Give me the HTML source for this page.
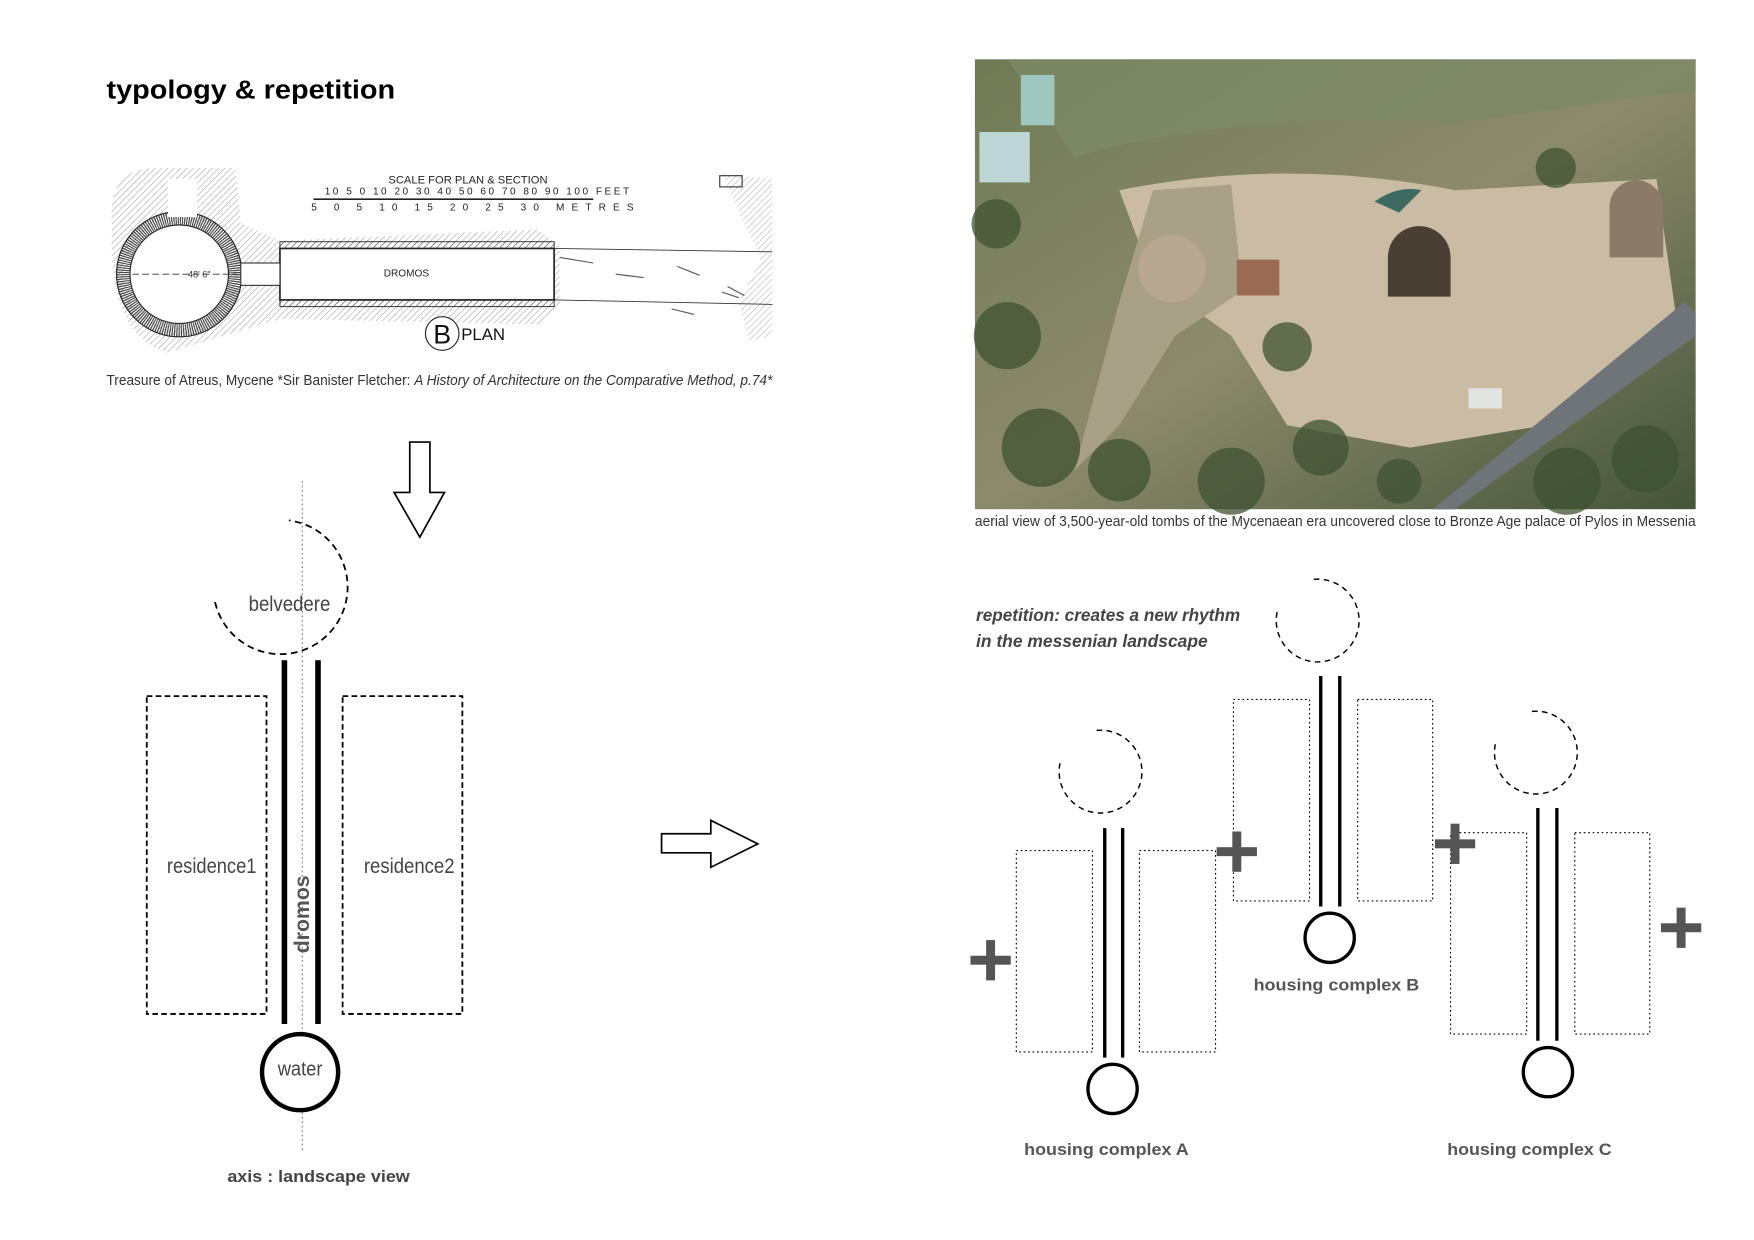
<!DOCTYPE html>
<html><head><meta charset="utf-8"><style>
html,body{margin:0;padding:0;background:#fff;}
svg{display:block;}
.n{font-family:"Liberation Sans",sans-serif;}
.s{font-family:"Liberation Sans",sans-serif;}
</style></head><body>
<svg width="1754" height="1240" viewBox="0 0 1567 1108" xmlns="http://www.w3.org/2000/svg">
<rect width="1567" height="1108" fill="#fff"/>
<defs>
<pattern id="h" width="4" height="4" patternUnits="userSpaceOnUse" patternTransform="rotate(45)"><line x1="0" y1="0" x2="0" y2="4" stroke="#555" stroke-width="1"/></pattern>
<linearGradient id="g1" x1="0" y1="0" x2="1" y2="1"><stop offset="0" stop-color="#6f7a55"/><stop offset="0.5" stop-color="#8d8a6c"/><stop offset="1" stop-color="#45553a"/></linearGradient>
</defs>
<text x="95" y="88" class="s" font-weight="bold" font-size="23" fill="#000" textLength="258" lengthAdjust="spacingAndGlyphs">typology &amp; repetition</text>

<!-- plan drawing -->
<g>
<path d="M100,200 Q95,150 140,150 L210,150 L215,200 L250,215 L480,205 L500,220 L500,275 L480,290 L250,285 L200,300 L150,315 Q95,300 100,200Z" fill="url(#h)" opacity="0.55"/>
<circle cx="160" cy="245" r="50" fill="none" stroke="#444" stroke-width="12" stroke-dasharray="1 1"/>
<circle cx="160" cy="245" r="44" fill="#fff" stroke="#222" stroke-width="1"/>
<circle cx="160" cy="245" r="56" fill="none" stroke="#222" stroke-width="1"/>
<rect x="150" y="160" width="26" height="34" fill="#fff"/>
<rect x="250" y="222" width="245" height="46" fill="#fff" stroke="#222" stroke-width="1.5"/>
<rect x="250" y="216" width="245" height="6" fill="url(#h)" stroke="#222" stroke-width="0.8"/>
<rect x="250" y="268" width="245" height="6" fill="url(#h)" stroke="#222" stroke-width="0.8"/>
<rect x="215" y="235" width="35" height="20" fill="#fff" stroke="#333" stroke-width="1"/>
<line x1="118" y1="245" x2="212" y2="245" stroke="#333" stroke-dasharray="6 3" stroke-width="0.8"/>
<text x="168" y="248" class="n" font-size="8" fill="#333">48' 6"</text>
<text x="363" y="247" class="n" font-size="9" text-anchor="middle" fill="#222">DROMOS</text>
<line x1="495" y1="222" x2="690" y2="225" stroke="#333" stroke-width="0.8"/>
<line x1="495" y1="268" x2="690" y2="272" stroke="#333" stroke-width="0.8"/>
<path d="M500,230 l30,5 m20,10 l25,3 m30,-10 l20,8 m20,15 l15,5 m-60,10 l20,5 m30,-25 l15,8" stroke="#555" stroke-width="1" fill="none"/>
<path d="M645,155 L690,160 L690,300 L670,305 L660,270 L680,230 L665,200Z" fill="url(#h)" opacity="0.45"/>
<rect x="643" y="157" width="20" height="10" fill="none" stroke="#333" stroke-width="1"/>
<text x="418" y="164" class="n" font-size="10" text-anchor="middle" fill="#222">SCALE FOR PLAN &amp; SECTION</text>
<text x="290" y="174" class="n" font-size="9" fill="#222" textLength="272" lengthAdjust="spacing">10 5 0 10 20 30 40 50 60 70 80 90 100 FEET</text>
<line x1="280" y1="178" x2="530" y2="178" stroke="#222" stroke-width="1.5"/>
<text x="278" y="188" class="n" font-size="9" fill="#222" textLength="288" lengthAdjust="spacing">5 0 5 10 15 20 25 30 METRES</text>
<circle cx="395" cy="298" r="15" fill="#fff" stroke="#222" stroke-width="1"/>
<text x="395" y="307" class="n" font-size="24" text-anchor="middle" fill="#111">B</text>
<text x="412" y="304" class="n" font-size="15" fill="#111">PLAN</text>
</g>
<text x="95" y="344" class="n" font-size="13" fill="#333" textLength="595" lengthAdjust="spacingAndGlyphs">Treasure of Atreus, Mycene *Sir Banister Fletcher: <tspan font-style="italic">A History of Architecture on the Comparative Method, p.74*</tspan></text>

<!-- down arrow -->
<path d="M366,395 L384,395 L384,440 L397,440 L375,480 L352,440 L366,440Z" fill="#fff" stroke="#000" stroke-width="1.5"/>
<!-- right arrow -->
<path d="M591,745 L635,745 L635,733 L677,754 L635,775 L635,762 L591,762Z" fill="#fff" stroke="#000" stroke-width="1.5"/>

<!-- left scheme -->
<line x1="270" y1="430" x2="270" y2="1030" stroke="#777" stroke-width="1" stroke-dasharray="1.5 2.5"/>
<path d="M192,538 A60,60 0 1 0 258,465" fill="none" stroke="#000" stroke-width="1.6" stroke-dasharray="6 4"/>
<text x="222" y="546" class="n" font-size="19" fill="#444" textLength="73" lengthAdjust="spacingAndGlyphs">belvedere</text>
<line x1="254" y1="590" x2="254" y2="915" stroke="#000" stroke-width="5"/>
<line x1="284" y1="590" x2="284" y2="915" stroke="#000" stroke-width="5"/>
<rect x="131" y="622" width="107" height="284" fill="none" stroke="#000" stroke-width="1.6" stroke-dasharray="5 3"/>
<rect x="306" y="622" width="107" height="284" fill="none" stroke="#000" stroke-width="1.6" stroke-dasharray="5 3"/>
<text x="149" y="780" class="n" font-size="19" fill="#444" textLength="80" lengthAdjust="spacingAndGlyphs">residence1</text>
<text x="325" y="780" class="n" font-size="19" fill="#444" textLength="81" lengthAdjust="spacingAndGlyphs">residence2</text>
<text transform="translate(276,817) rotate(-90)" class="s" font-size="19" font-weight="bold" text-anchor="middle" fill="#555">dromos</text>
<circle cx="268" cy="958" r="34" fill="#fff" stroke="#000" stroke-width="4"/>
<text x="248" y="961" class="n" font-size="18" fill="#444" textLength="40" lengthAdjust="spacingAndGlyphs">water</text>
<text x="203" y="1056" class="s" font-size="15" font-weight="bold" fill="#444" textLength="163" lengthAdjust="spacingAndGlyphs">axis : landscape view</text>

<!-- photo -->
<g>
<rect x="871" y="53" width="644" height="402" fill="url(#g1)"/>
<path d="M960,140 Q1100,100 1300,110 L1515,80 L1515,53 L900,53Z" fill="#7d8a66" opacity="0.8"/>
<path d="M1000,170 Q1150,140 1300,170 L1480,160 L1500,300 L1380,380 L1260,400 L1150,380 L1100,300 L1030,250Z" fill="#c9bba4"/>
<path d="M1030,170 L1100,165 L1110,260 L1050,300 L1000,380 L960,420 L1000,270Z" fill="#a9a088"/>
<circle cx="1047" cy="240" r="30" fill="#b8a791"/>
<path d="M1240,230 A28,28 0 0 1 1296,230 L1296,265 L1240,265Z" fill="#4a3f35"/>
<path d="M1438,185 A24,24 0 0 1 1486,185 L1486,230 L1438,230Z" fill="#8c7a68"/>
<rect x="1105" y="232" width="38" height="32" fill="#9a6a55"/>
<path d="M1280,455 L1505,270 L1515,280 L1515,300 L1300,455Z" fill="#6e7478"/>
<rect x="875" y="118" width="45" height="45" fill="#bfd6d6"/>
<rect x="912" y="67" width="30" height="45" fill="#9fc7c0"/>
<rect x="1312" y="347" width="30" height="18" fill="#e3e5e3"/>
<path d="M1228,180 Q1250,165 1270,170 L1250,190Z" fill="#3f6a62"/>
<g fill="#3f5233" opacity="0.75">
<circle cx="900" cy="300" r="30"/><circle cx="930" cy="400" r="35"/><circle cx="1000" cy="420" r="28"/><circle cx="1100" cy="430" r="30"/><circle cx="1180" cy="400" r="25"/><circle cx="1250" cy="430" r="20"/><circle cx="1400" cy="430" r="30"/><circle cx="1470" cy="410" r="30"/><circle cx="1390" cy="150" r="18"/><circle cx="890" cy="200" r="22"/><circle cx="1150" cy="310" r="22"/>
</g>
</g>
<text x="871" y="470" class="n" font-size="13" fill="#333" textLength="644" lengthAdjust="spacingAndGlyphs">aerial view of  3,500-year-old tombs of the Mycenaean era uncovered close to Bronze Age palace of Pylos in Messenia</text>

<text x="872" y="555" class="s" font-size="16" font-style="italic" font-weight="bold" fill="#444" textLength="236" lengthAdjust="spacingAndGlyphs">repetition: creates a new rhythm</text>
<text x="872" y="578" class="s" font-size="16" font-style="italic" font-weight="bold" fill="#444" textLength="207" lengthAdjust="spacingAndGlyphs">in the messenian  landscape</text>

<!-- complexes -->
<g fill="none" stroke="#000">
<path d="M947,682 A37,37 0 1 0 977,653" stroke-width="1.3" stroke-dasharray="5 4"/>
<line x1="987" y1="740" x2="987" y2="945" stroke-width="3"/>
<line x1="1003" y1="740" x2="1003" y2="945" stroke-width="3"/>
<rect x="908" y="760" width="68" height="180" stroke-width="1" stroke-dasharray="1.5 2.5"/>
<rect x="1018" y="760" width="68" height="180" stroke-width="1" stroke-dasharray="1.5 2.5"/>
<circle cx="994" cy="973" r="22" stroke-width="3"/>
<path d="M1141,547 A37,37 0 1 0 1171,518" stroke-width="1.3" stroke-dasharray="5 4"/>
<line x1="1180" y1="604" x2="1180" y2="810" stroke-width="3"/>
<line x1="1197" y1="604" x2="1197" y2="810" stroke-width="3"/>
<rect x="1102" y="625" width="68" height="180" stroke-width="1" stroke-dasharray="1.5 2.5"/>
<rect x="1213" y="625" width="67" height="180" stroke-width="1" stroke-dasharray="1.5 2.5"/>
<circle cx="1188" cy="838" r="22" stroke-width="3"/>
<path d="M1336,665 A37,37 0 1 0 1366,636" stroke-width="1.3" stroke-dasharray="5 4"/>
<line x1="1374" y1="722" x2="1374" y2="930" stroke-width="3"/>
<line x1="1391" y1="722" x2="1391" y2="930" stroke-width="3"/>
<rect x="1296" y="744" width="68" height="180" stroke-width="1" stroke-dasharray="1.5 2.5"/>
<rect x="1407" y="744" width="67" height="180" stroke-width="1" stroke-dasharray="1.5 2.5"/>
<circle cx="1383" cy="958" r="22" stroke-width="3"/>
</g>
<g class="s" font-size="15" font-weight="bold" fill="#555">
<text x="915" y="1032" textLength="147" lengthAdjust="spacingAndGlyphs">housing complex A</text>
<text x="1120" y="885" textLength="148" lengthAdjust="spacingAndGlyphs">housing complex B</text>
<text x="1293" y="1032" textLength="147" lengthAdjust="spacingAndGlyphs">housing complex C</text>
</g>
<g fill="#555">
<rect x="881" y="840" width="8" height="36"/><rect x="867" y="854" width="36" height="8"/>
<rect x="1101" y="743" width="8" height="36"/><rect x="1087" y="757" width="36" height="8"/>
<rect x="1296" y="736" width="8" height="36"/><rect x="1282" y="750" width="36" height="8"/>
<rect x="1498" y="811" width="8" height="36"/><rect x="1484" y="825" width="36" height="8"/>
</g>
</svg>
</body></html>
